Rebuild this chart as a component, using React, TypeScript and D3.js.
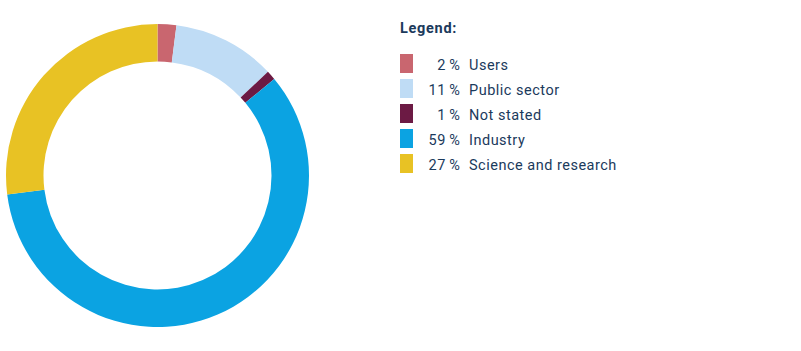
import { useRef, useEffect } from 'react';
import * as d3 from 'd3';

const categories = ['Users', 'Public sector', 'Not stated', 'Industry', 'Science and research'];
const shares = [2, 11, 1, 59, 27];
const colors = ['#c9666f', '#bfdcf5', '#6c1a44', '#0ba3e2', '#e8c224'];

const TEXT = '#1b3a5c';
const FONT = 'Roboto, "DejaVu Sans", sans-serif';

export default function App() {
  const svgRef = useRef<SVGSVGElement>(null);

  useEffect(() => {
    if (!svgRef.current) return;
    const svg = d3.select(svgRef.current);
    svg.selectAll('*').remove();

    const cx = 157.5;
    const cy = 175.5;
    const outer = 151.5;
    const inner = 114;

    const pie = d3
      .pie<number>()
      .sort(null)
      .value((d) => d);
    const arc = d3.arc<d3.PieArcDatum<number>>().innerRadius(inner).outerRadius(outer);

    svg
      .append('g')
      .attr('transform', `translate(${cx},${cy})`)
      .selectAll('path')
      .data(pie(shares))
      .join('path')
      .attr('d', arc)
      .attr('fill', (_, i) => colors[i]);

    // Legend
    const lg = svg.append('g').attr('font-family', FONT).attr('fill', TEXT);
    lg.append('text')
      .attr('x', 400)
      .attr('y', 33)
      .attr('font-size', 14.5)
      .attr('font-weight', 700)
      .attr('letter-spacing', 0.7)
      .text('Legend:');

    const y = d3.scaleBand<string>().domain(categories).range([54, 179]).paddingInner(0);

    const row = lg
      .selectAll('g.row')
      .data(categories)
      .join('g')
      .attr('class', 'row')
      .attr('transform', (d) => `translate(0,${y(d)})`);

    row
      .append('rect')
      .attr('x', 400)
      .attr('y', 0)
      .attr('width', 13)
      .attr('height', 19)
      .attr('fill', (_, i) => colors[i]);

    row
      .append('text')
      .attr('x', 460.5)
      .attr('y', 16)
      .attr('font-size', 14.5)
      .attr('letter-spacing', 0.5)
      .attr('text-anchor', 'end')
      .text((_, i) => `${shares[i]}\u2009%`);

    row
      .append('text')
      .attr('x', 469)
      .attr('y', 16)
      .attr('font-size', 14.5)
      .attr('letter-spacing', 0.5)
      .text((d) => d);
  }, []);

  return (
    <svg
      ref={svgRef}
      width={801}
      height={351}
      style={{ position: 'absolute', left: 0, top: 0, background: '#fff' }}
    />
  );
}
